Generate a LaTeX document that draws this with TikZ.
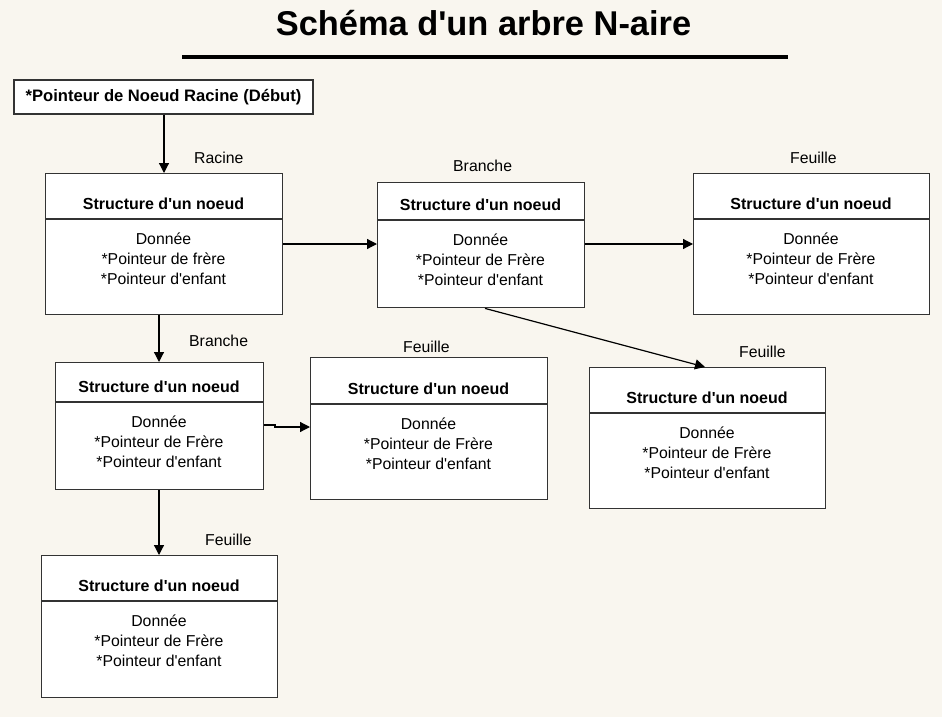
\documentclass[tikz,border=0pt]{standalone}
\usepackage{fontspec}
\setmainfont{Liberation Sans}[Ligatures=TeXOff]
\usetikzlibrary{arrows.meta}
\definecolor{bgcream}{HTML}{F9F6EF}
\definecolor{boxborder}{HTML}{333333}
\tikzset{
  boxst/.style={draw=boxborder, line width=1.4pt, fill=white, rectangle, inner sep=0pt, anchor=north west},
  divline/.style={draw=boxborder, line width=1.4pt},
  headst/.style={font=\bfseries\fontsize{16}{19}\selectfont, anchor=base, inner sep=0pt},
  bodyst/.style={font=\fontsize{15.8}{20}\selectfont, anchor=base, inner sep=0pt},
  lblst/.style={font=\fontsize{15.8}{20}\selectfont, anchor=base west, inner sep=0pt},
  arr/.style={draw=black, line width=1.2pt, -{Triangle[length=10pt,width=10pt]}},
}
% name, left, top, right, bottom, divider, second body line
\newcommand{\structbox}[7]{%
  \node[boxst, minimum width={#4pt-#2pt}, minimum height={#5pt-#3pt}] (#1) at (#2,#3) {};
  \draw[divline] (#2,#6) -- (#4,#6);
  \node[headst] (#1h) at ({(#2+#4)/2},{#6-10}) {Structure d'un noeud};
  \node[bodyst] (#1a) at ({(#2+#4)/2},{#6+25}) {Donnée};
  \node[bodyst] (#1b) at ({(#2+#4)/2},{#6+45}) {#7};
  \node[bodyst] (#1c) at ({(#2+#4)/2},{#6+65}) {*Pointeur d'enfant};
}
\begin{document}
\begin{tikzpicture}[x=1pt,y=-1pt]
  \fill[bgcream] (0,0) rectangle (942,717);
  \useasboundingbox (0,0) rectangle (942,717);

  % title
  \node[font=\bfseries\fontsize{34.4}{40}\selectfont, anchor=base, inner sep=0pt] (title) at (483.5,36) {Schéma d'un arbre N-aire};
  \draw[line width=3.5pt, black] (182,57) coordinate (ulA) -- (788,57) coordinate (ulB);

  % top pointer box
  \node[draw=boxborder, line width=1.4pt, fill=white, inner sep=0pt, minimum width=299pt, minimum height=34pt,
        font=\bfseries\fontsize{16.6}{20}\selectfont] (top) at (163.5,97) {*Pointeur de Noeud Racine (Début)};

  % boxes
  \structbox{R}{45}{173}{282}{314}{219}{*Pointeur de frère}
  \structbox{B1}{377}{182}{584}{307}{220}{*Pointeur de Frère}
  \structbox{F1}{693}{173}{929}{314}{219}{*Pointeur de Frère}
  \structbox{F2}{589}{367}{825}{508}{413}{*Pointeur de Frère}
  \structbox{B2}{55}{362}{263}{489}{402}{*Pointeur de Frère}
  \structbox{Fm}{310}{357}{547}{499}{404}{*Pointeur de Frère}
  \structbox{F3}{41}{555}{277}{697}{601}{*Pointeur de Frère}

  % labels
  \node[lblst] (lR) at (194,163) {Racine};
  \node[lblst] (lB1) at (453,171) {Branche};
  \node[lblst] (lF1) at (790,163) {Feuille};
  \node[lblst] (lF2) at (739,357) {Feuille};
  \node[lblst] (lB2) at (189,346) {Branche};
  \node[lblst] (lFm) at (403,352) {Feuille};
  \node[lblst] (lF3) at (205,545) {Feuille};

  % connectors
  \draw[arr] (top.south -| 164,0) -- (R.north -| 164,0);
  \draw[arr] (R.east |- 0,244) -- (B1.west |- 0,244);
  \draw[arr] (B1.east |- 0,244) -- (F1.west |- 0,244);
  \draw[arr] (B1.south -| 485,0) -- (F2.north -| 705,0);
  \draw[arr] (R.south -| 159,0) -- (B2.north -| 159,0);
  \draw[arr] (B2.east |- 0,425) -- (275,425) |- (Fm.west |- 0,427);
  \draw[arr] (B2.south -| 159,0) -- (F3.north -| 159,0);
\end{tikzpicture}
\end{document}
